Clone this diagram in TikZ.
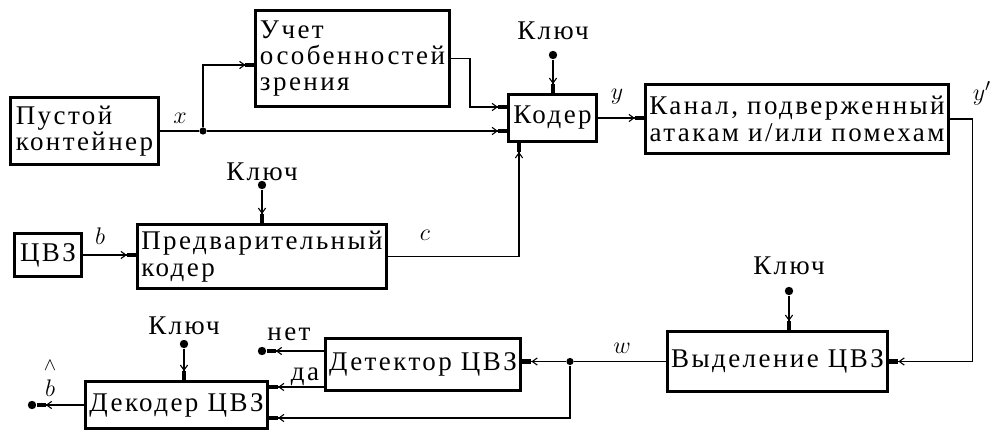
\documentclass[tikz,border=0pt]{standalone}
\usepackage{fontspec}
\setmainfont{Liberation Serif}[LetterSpace=9]
\usetikzlibrary{arrows.meta}
\newcommand\blkfont{\fontsize{13.5}{13.2}\selectfont}
\tikzset{
  blk/.style={draw,line width=1.5pt,inner sep=2pt,font=\blkfont},
  txt/.style={inner sep=0pt,font=\blkfont},
  sig/.style={inner sep=0pt,font=\fontsize{13}{13}\selectfont},
  arr/.style={-{Straight Barb[length=2.5pt,width=3.6pt] Rectangle[length=4.5pt,width=2.2pt]}},
  dot/.style={circle,fill,inner sep=0pt,minimum size=4.2pt},
  jdot/.style={circle,fill,inner sep=0pt,minimum size=3.6pt}
}
\begin{document}
\begin{tikzpicture}[x=0.5pt,y=-0.5pt,line width=0.55pt]
\useasboundingbox (0,0) rectangle (1002,432);
% embedding part
\node[blk,align=left,minimum width=74pt,minimum height=33.5pt] (cont) at (84.5,131) {Пустой\\контейнер};
\node[blk,align=left,minimum width=96pt,minimum height=48pt] (uchet) at (352.5,58.5) {Учет\\особенностей\\зрения};
\node[blk,minimum width=44pt,minimum height=23.5pt] (coder) at (552.5,118) {Кодер};
\node[blk,align=center,minimum width=151.5pt,minimum height=34.5pt] (kanal) at (797,119) {Канал, подверженный\\атакам и/или помехам};
\node[blk,minimum width=33.5pt,minimum height=21.5pt] (tsvz) at (48,255) {ЦВЗ};
\node[blk,align=left,minimum width=124.5pt,minimum height=32pt] (pre) at (262,256.5) {Предварительный\\кодер};
% extraction part
\node[blk,minimum width=110pt,minimum height=30pt] (vyd) at (777.5,361.5) {Выделение ЦВЗ};
\node[blk,minimum width=96.5pt,minimum height=26pt] (det) at (423,364.5) {Детектор ЦВЗ};
\node[blk,minimum width=89pt,minimum height=23.5pt] (dec) at (176.5,405) {Декодер ЦВЗ};

% branch points, key inputs and free outputs
\node[jdot] (jx) at (203,131) {};
\node[jdot] (jw) at (570,361.5) {};
\node[dot] (kc) at (553,55) {};
\node[dot] (kp) at (262,185) {};
\node[dot] (kv) at (789,291) {};
\node[dot] (kd) at (184,344) {};
\node[dot] (net) at (262,351) {};
\node[dot] (bout) at (32,405) {};

\node[txt] (tkc) at (553,31) {Ключ};
\node[txt] (tkp) at (262,172) {Ключ};
\node[txt] (tkv) at (789,266) {Ключ};
\node[txt] (tkd) at (184,326) {Ключ};
\node[txt] (tnet) at (289,334) {нет};
\node[txt] (tda) at (305,377) {да};

\node[sig] (lx) at (180,118) {$x$};
\node[sig] (ly) at (617,97) {$y$};
\node[sig] (lyy) at (982,93) {$y'$};
\node[sig] (lb) at (100,236) {$b$};
\node[sig] (lc) at (425,235) {$c$};
\node[sig] (lw) at (622,348) {$w$};
\node[sig,align=center] (lbh) at (50,379) {$\scriptstyle\wedge$\\[0pt]$b$};

% connectors
\draw (cont.east) -- (jx);
\draw[arr] (jx) -- (coder.west |- jx);
\draw[arr] (jx) |- (uchet.west |- 0,65);
\draw[arr] (uchet.east) -| (470,107) -- (coder.west |- 0,107);
\draw[arr] (kc) -- (kc |- coder.north);
\draw[arr] (coder.east) -- (kanal.west |- coder.east);
\draw[arr] (tsvz.east) -- (pre.west |- tsvz.east);
\draw[arr] (kp) -- (kp |- pre.north);
\draw[arr] (pre.east) -| (519,0 |- coder.south);
\draw[arr] (kanal.east) -- ++(22,0) |- (vyd.east);
\draw[arr] (kv) -- (kv |- vyd.north);
\draw (vyd.west) -- (jw);
\draw[arr] (jw) -- (det.east |- jw);
\draw[arr] (jw) |- (dec.east |- 0,418);
\draw[arr] (det.west |- 0,351) -- (net);
\draw[arr] (det.west |- 0,387) -- (dec.east |- 0,387);
\draw[arr] (kd) -- (kd |- dec.north);
\draw[arr] (dec.west) -- (bout);
\end{tikzpicture}
\end{document}
